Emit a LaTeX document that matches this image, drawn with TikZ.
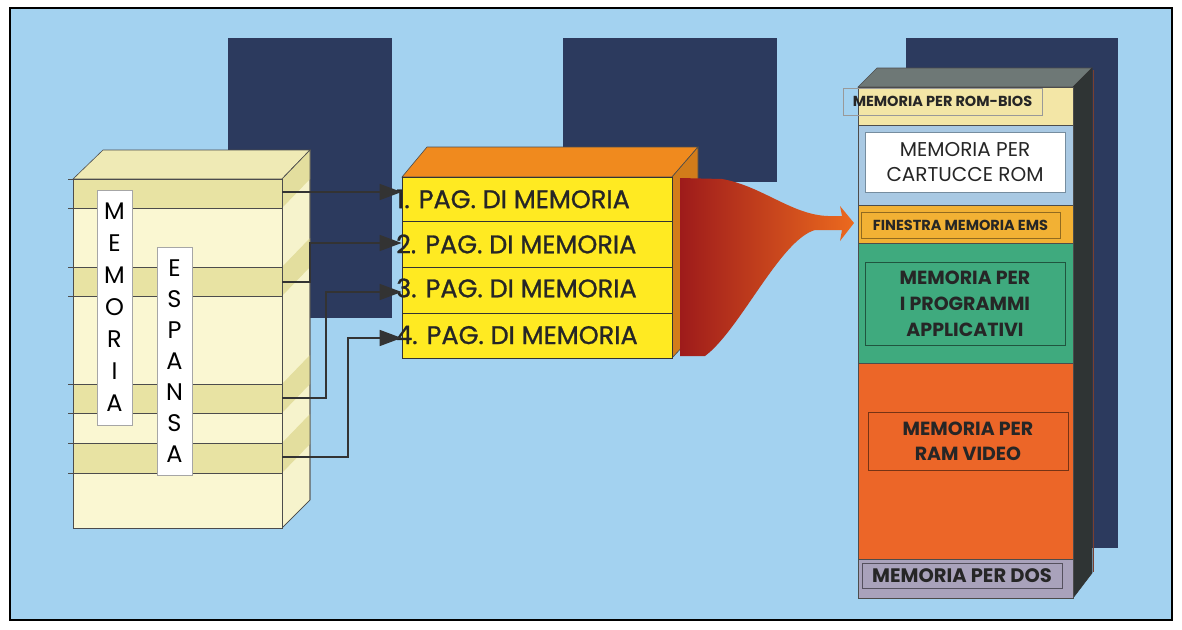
\documentclass[tikz,border=0pt]{standalone}
\usepackage{fontspec}
\setmainfont{Poppins}
\newfontfamily\pagefont{Poppins}[FakeBold=1]
\usetikzlibrary{arrows.meta,calc}
\definecolor{bgblue}{HTML}{A3D2F0}
\definecolor{navy}{HTML}{2C3A5E}
\definecolor{creamfront}{HTML}{FAF7D2}
\definecolor{creamband}{HTML}{E8E3A3}
\definecolor{creamtop}{HTML}{EFEAB5}
\definecolor{creamside}{HTML}{F6F3CC}
\definecolor{sideband}{HTML}{E3DE9E}
\definecolor{pageyellow}{HTML}{FFEA22}
\definecolor{pagetop}{HTML}{F08A1E}
\definecolor{pageside}{HTML}{D27C1A}
\definecolor{funnelL}{HTML}{9E1B1B}
\definecolor{funnelR}{HTML}{EC6A1E}
\definecolor{romb}{HTML}{F3E6A6}
\definecolor{cartblue}{HTML}{A9C9E3}
\definecolor{finestra}{HTML}{F2B134}
\definecolor{progreen}{HTML}{3FAA7E}
\definecolor{vidorange}{HTML}{EC6628}
\definecolor{doslav}{HTML}{A9A2BB}
\definecolor{coltop}{HTML}{6E7876}
\definecolor{colside}{HTML}{2F3434}
\definecolor{arrgray}{HTML}{333333}
\definecolor{edgebrown}{HTML}{7A4030}
\tikzset{
  strip/.style={draw=gray!70, fill=white, line width=0.6pt},
  letter/.style={font=\fontsize{24}{24}\selectfont, inner sep=0pt},
  pagerow/.style={draw=black!80, fill=pageyellow, line width=0.8pt, minimum width=270pt, inner sep=0pt},
  pagetext/.style={font=\pagefont\fontsize{25.5}{26}\selectfont, anchor=west, inner sep=0pt, text=black!85},
  conn/.style={draw=arrgray, line width=1.6pt, -{Triangle[length=22pt,width=16pt]}},
  section/.style={draw=black!70, line width=0.6pt, minimum width=215pt, inner sep=0pt},
  label/.style={line width=0.8pt, minimum width=200pt, inner sep=0pt, align=center, text=black!85},
}
\begin{document}
\begin{tikzpicture}[x=1pt,y=-1pt]
\useasboundingbox (0,0) rectangle (1182,629);
\fill[white] (0,0) rectangle (1182,629);
% background
\node[draw=black, line width=1.2pt, fill=bgblue, minimum width=1162pt, minimum height=612pt, inner sep=0pt] (bg) at (591,314) {};
% dark squares
\fill[navy] (228,38) rectangle (392,318);
\fill[navy] (563,38) rectangle (777,182);
\fill[navy] (906,38) rectangle (1118,548);

% ===== left block =====
\fill[creamtop, draw=black!70, line width=0.6pt] (73,179) -- (103,150) -- (310,150) -- (282,179) -- cycle;
\fill[creamside, draw=black!70, line width=0.6pt] (282,179) -- (310,150) -- (310,500) -- (282,528) -- cycle;
\foreach \a/\b in {179/208, 267/296, 384/413, 443/473}{
  \fill[sideband] (282,\a) -- (310,\a-29) -- (310,\b-29) -- (282,\b) -- cycle;
}
\draw[black!70, line width=0.6pt] (282,179) -- (310,150) -- (310,500) -- (282,528);
\node[draw=black!70, fill=creamfront, line width=0.6pt, minimum width=209pt, minimum height=349pt, inner sep=0pt] (blockL) at (177.5,353.5) {};
\foreach \a/\b in {179/208, 267/296, 384/413, 443/473}{
  \fill[creamband] (73,\a) rectangle (282,\b);
  \draw[black!70, line width=0.6pt] (68,\a) -- (282,\a);
  \draw[black!70, line width=0.6pt] (68,\b) -- (282,\b);
}
\draw[black!70, line width=0.6pt] (73,179) rectangle (282,528);
% label strips
\node[strip, minimum width=35pt, minimum height=235pt, inner sep=0pt] (memstrip) at (114.5,307.5) {};
\node[strip, minimum width=35pt, minimum height=228pt, inner sep=0pt] (espstrip) at (174.5,361) {};
\foreach \ch [count=\i] in {M,E,M,O,R,I,A}{
  \node[letter] at (114.5,{179+32*\i}) {\ch};
}
\foreach \ch [count=\i] in {E,S,P,A,N,S,A}{
  \node[letter] at (174.5,{237+31*\i}) {\ch};
}
\coordinate (s1) at (282,192);
\coordinate (s2) at (282,282);
\coordinate (s3) at (282,398);
\coordinate (s4) at (282,457);

% ===== page block =====
\fill[pagetop, draw=black!70, line width=0.6pt] (402,177) -- (427,147) -- (698,147) -- (672,177) -- cycle;
\fill[pageside, draw=black!70, line width=0.6pt] (672,177) -- (698,147) -- (698,330) -- (672,358) -- cycle;
\node[pagerow, minimum height=44pt] (p1) at (537,199) {};
\node[pagerow, minimum height=46pt] (p2) at (537,244) {};
\node[pagerow, minimum height=46pt] (p3) at (537,290) {};
\node[pagerow, minimum height=45pt] (p4) at (537,335.5) {};
\node[pagetext] (t1) at (396,199) {1. PAG. DI MEMORIA};
\node[pagetext] (t2) at (396,244) {2. PAG. DI MEMORIA};
\node[pagetext] (t3) at (396,288) {3. PAG. DI MEMORIA};
\node[pagetext] (t4) at (396,335) {4. PAG. DI MEMORIA};

% connectors
\draw[conn] (s1) -- (s1 -| p1.west);
\draw[conn] (s2) -- ++(28,0) |- ([yshift=1pt]p2.west);
\draw[conn] (s3) -- ++(44,0) |- ([yshift=-2pt]p3.west);
\draw[conn] (s4) -- ++(66,0) |- ([yshift=-2.5pt]p4.west);

% ===== funnel =====
\shade[left color=funnelL, right color=funnelR]
  (680,178) -- (722,179) .. controls (762,186) and (792,215) .. (828,216) -- (842,216)
  -- (840,206) -- (854,223) -- (840,241) -- (842,230) -- (815,230)
  .. controls (780,240) and (740,330) .. (705,356) -- (680,356) -- cycle;

% ===== right column =====
\fill[coltop, draw=black!70, line width=0.6pt] (858,87) -- (877,68) -- (1092,68) -- (1073,87) -- cycle;
\fill[colside, draw=black!80, line width=0.6pt] (1073,87) -- (1092,68) -- (1092,573) -- (1073,598) -- cycle;
\draw[edgebrown, line width=1pt] (1093.5,70) -- (1093.5,572);
\node[section, fill=romb, minimum height=38pt] (rb) at (965.5,106) {};
\node[section, fill=cartblue, minimum height=80pt] (ct) at (965.5,165) {};
\node[section, fill=finestra, minimum height=38pt] (fe) at (965.5,224) {};
\node[section, fill=progreen, minimum height=120pt] (pg) at (965.5,303) {};
\node[section, fill=vidorange, minimum height=196pt] (rv) at (965.5,461) {};
\node[section, fill=doslav, minimum height=39pt] (ds) at (965.5,578.5) {};

\node[label, draw=gray!80, minimum width=199pt, minimum height=27pt, font=\bfseries\fontsize{14.5}{15}\selectfont] (lrb) at (942.5,101.5) {MEMORIA PER ROM-BIOS};
\node[label, draw=cartblue!70!black, fill=white, minimum height=60pt, font=\fontsize{20}{25}\selectfont] (lct) at (965,162) {MEMORIA PER\\CARTUCCE ROM};
\node[label, draw=finestra!60!black, minimum width=199pt, minimum height=26pt, font=\bfseries\fontsize{14.5}{15}\selectfont] (lfe) at (960.5,225) {FINESTRA MEMORIA EMS};
\node[label, draw=progreen!50!black, minimum height=83pt, font=\bfseries\fontsize{19}{26}\selectfont] (lpg) at (965,303.5) {MEMORIA PER\\I PROGRAMMI\\APPLICATIVI};
\node[label, draw=vidorange!50!black, minimum height=58pt, font=\bfseries\fontsize{19}{25}\selectfont] (lrv) at (968,441) {MEMORIA PER\\RAM VIDEO};
\node[label, draw=doslav!50!black, minimum height=25pt, font=\bfseries\fontsize{19.5}{20}\selectfont] (lds) at (962,575.5) {MEMORIA PER DOS};
\end{tikzpicture}
\end{document}
